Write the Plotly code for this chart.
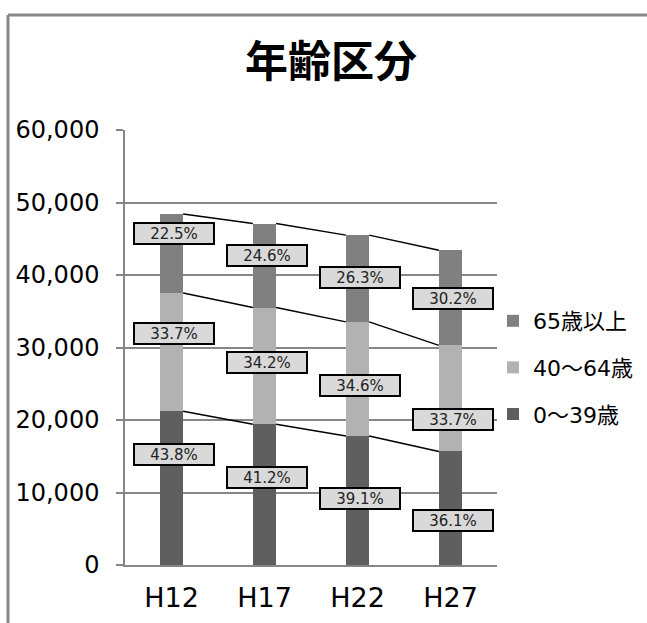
import plotly.graph_objects as go

# Population by age group, Heisei census years
years = ["H12", "H17", "H22", "H27"]
age_0_39 = [21200, 19405, 17790, 15667]
age_40_64 = [16310, 16108, 15743, 14626]
age_65_up = [10890, 11587, 11967, 13107]

series_names = ["0～39歳", "40～64歳", "65歳以上"]
y_ticks = [0, 10000, 20000, 30000, 40000, 50000, 60000]

# Vertical pixel nudges for the percentage boxes (per series, per year)
label_shift = [
    [34, 17, 2, -12],
    [19, 3, -7, -21],
    [20, 10, 1, -1],
]

colors = ["#5f5f5f", "#b2b2b2", "#808080"]
FONT = "DejaVu Sans, Noto Sans CJK JP, sans-serif"
BAR_W = 0.25

series = [age_0_39, age_40_64, age_65_up]
xs = list(range(len(years)))
totals = [sum(v) for v in zip(*series)]

fig = go.Figure()

for i, (name, vals) in enumerate(zip(series_names, series)):
    fig.add_trace(go.Bar(
        x=xs, y=vals, name=name, width=BAR_W,
        marker=dict(color=colors[i], line=dict(width=0)),
        legendgroup=name, legendrank=len(series) - i,
    ))

# Series lines joining the top of each segment between neighbouring bars
cum = [0] * len(years)
for i, vals in enumerate(series):
    cum = [c + v for c, v in zip(cum, vals)]
    lx, ly = [], []
    for k in range(len(years) - 1):
        lx += [xs[k] + BAR_W / 2, xs[k + 1] - BAR_W / 2, None]
        ly += [cum[k], cum[k + 1], None]
    fig.add_trace(go.Scatter(
        x=lx, y=ly, mode="lines", showlegend=False, hoverinfo="skip",
        line=dict(color="black", width=1.5),
    ))

# Percentage share boxes
base = [0] * len(years)
for i, vals in enumerate(series):
    for k, v in enumerate(vals):
        mid = base[k] + v / 2
        pct = v / totals[k] * 100
        fig.add_annotation(
            x=xs[k], y=mid, text=f"{pct:.1f}%",
            showarrow=False, xshift=2, yshift=label_shift[i][k],
            font=dict(family=FONT, size=15, color="#222"),
            bgcolor="#d9d9d9", bordercolor="black", borderwidth=2,
            borderpad=1, width=76, height=17,
        )
    base = [b + v for b, v in zip(base, vals)]

# Chart-area frame (top and left edges)
fx0 = (8 - 125) / 372
fy0 = (565 - 15) / 435
fig.add_shape(type="line", xref="paper", yref="paper",
              x0=fx0, y0=fy0, x1=1.5, y1=fy0,
              line=dict(color="#878787", width=3))
fig.add_shape(type="line", xref="paper", yref="paper",
              x0=fx0, y0=fy0, x1=fx0, y1=-0.2,
              line=dict(color="#878787", width=3))

fig.update_layout(
    width=647, height=623,
    margin=dict(l=125, r=150, t=130, b=58, autoexpand=False),
    paper_bgcolor="white", plot_bgcolor="white",
    barmode="stack",
    title=dict(text="<b>年齢区分</b>", x=331 / 647, xanchor="center",
               y=1 - 62 / 623, yanchor="middle",
               font=dict(family="Noto Sans CJK JP", size=43, color="black")),
    font=dict(family=FONT, color="black"),
    xaxis=dict(
        range=[-0.5, 3.5], tickmode="array", tickvals=xs, ticktext=years,
        showgrid=False, zeroline=False, showline=True,
        linecolor="#868686", linewidth=1.5, ticks="",
        tickfont=dict(family=FONT, size=27, color="black"),
        ticklabelstandoff=8,
    ),
    yaxis=dict(
        range=[0, 60000], tickmode="array", tickvals=y_ticks,
        tickformat=",", showgrid=True, gridcolor="#868686", gridwidth=1.5,
        zeroline=False, showline=True, linecolor="#868686", linewidth=1.5,
        ticks="outside", ticklen=7, tickcolor="#868686", tickwidth=1.5,
        tickfont=dict(family=FONT, size=24, color="black"),
        ticklabelstandoff=12,
    ),
    legend=dict(
        x=(493 - 125) / 372, y=(565 - 300) / 435, xanchor="left", yanchor="top",
        traceorder="grouped", tracegroupgap=15, itemwidth=30,
        font=dict(family=FONT, size=22, color="black"),
        bgcolor="rgba(0,0,0,0)",
    ),
    showlegend=True,
)

fig.write_html("out.html")
